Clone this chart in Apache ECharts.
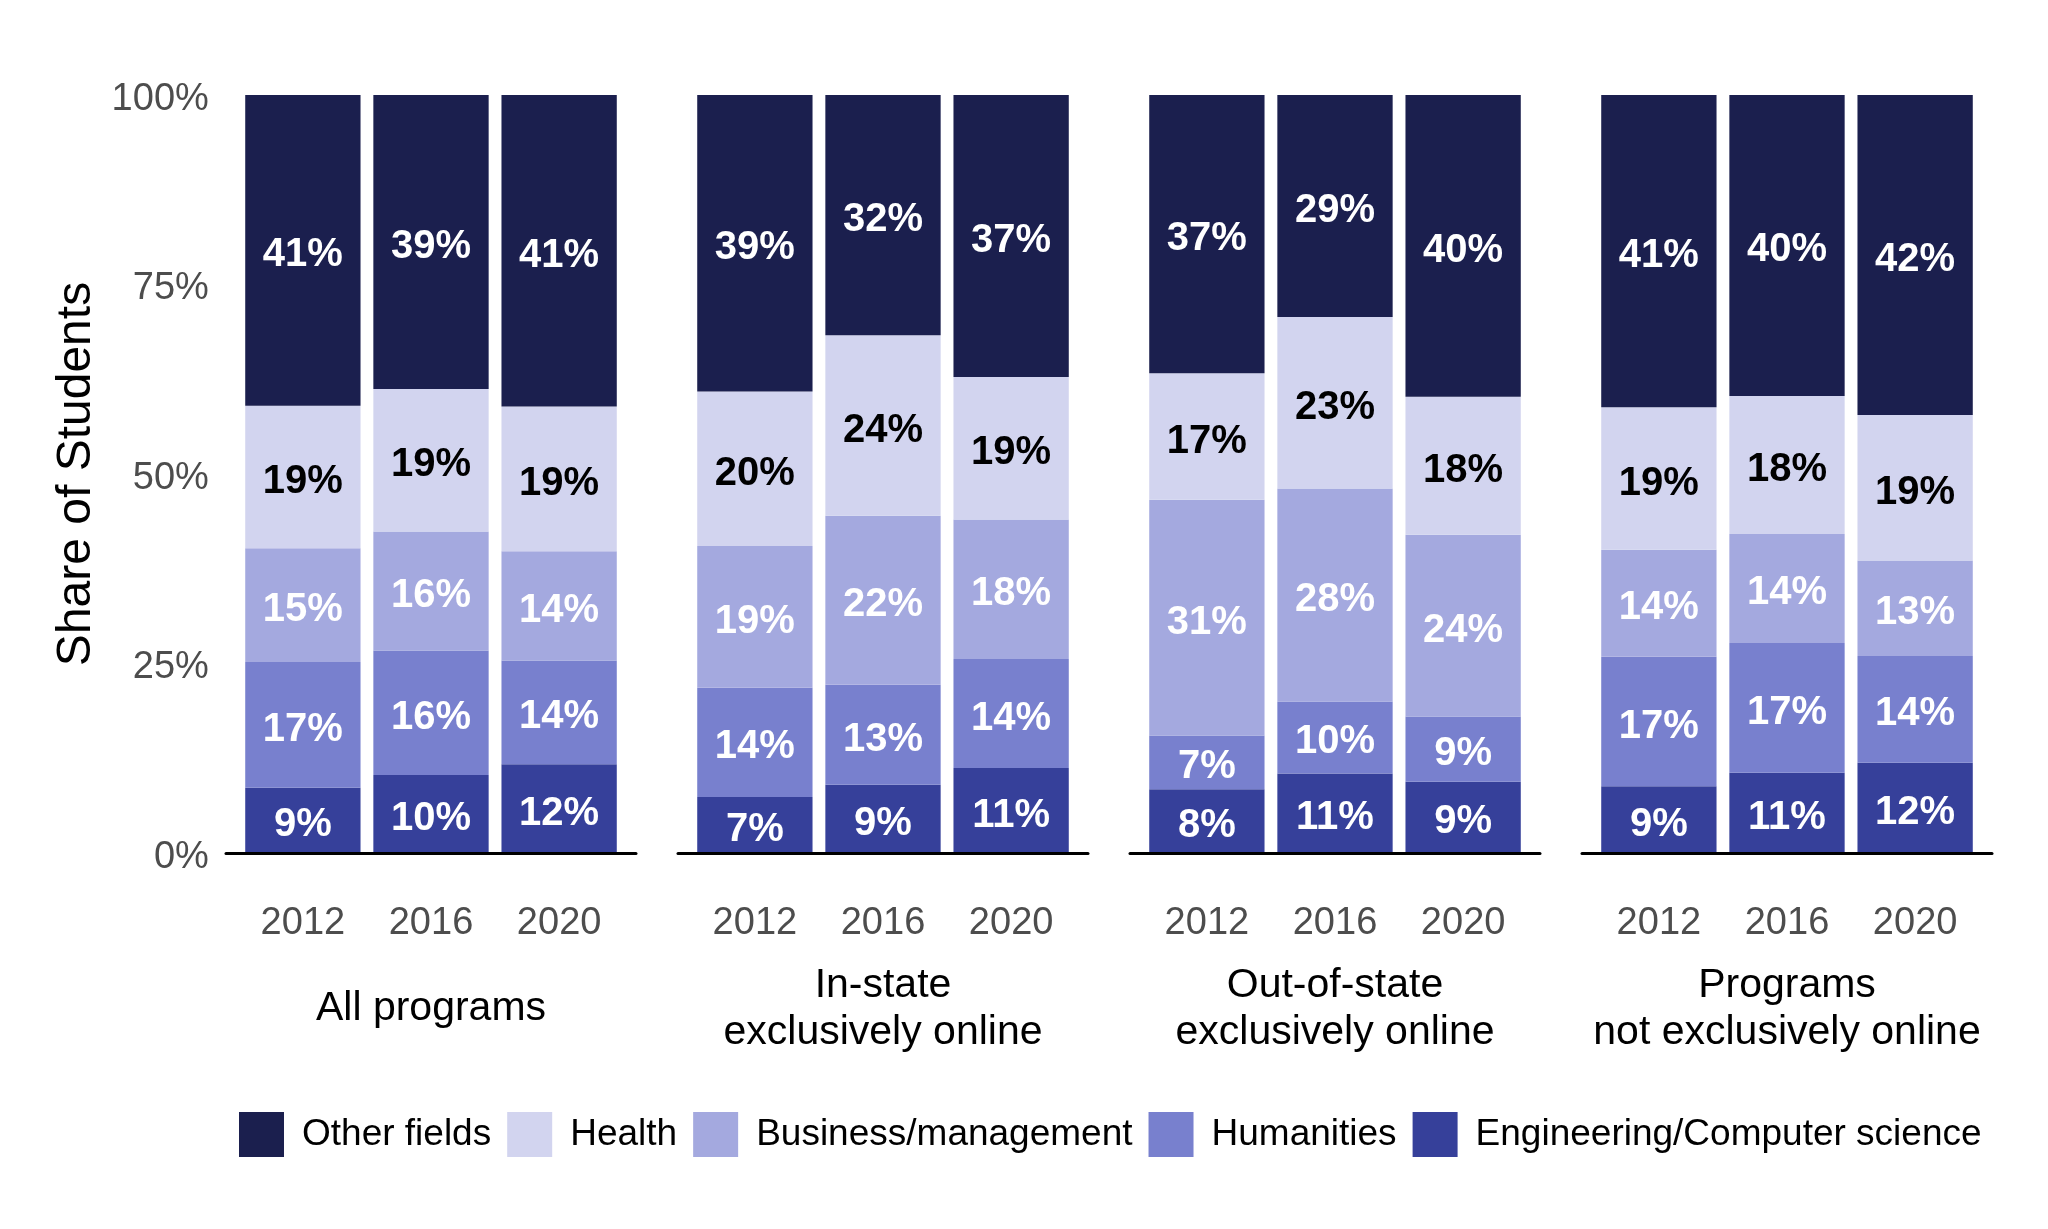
<!DOCTYPE html>
<html>
<head>
<meta charset="utf-8">
<script src="https://cdn.jsdelivr.net/npm/echarts@6/dist/echarts.min.js"></script>
<style>html,body{margin:0;padding:0;background:#fff;}#c{width:2048px;height:1229px;}</style>
</head>
<body>
<div id="c"></div>
<script>
const years = ['2012', '2016', '2020'];
const groups = ['All programs', 'In-state\nexclusively online', 'Out-of-state\nexclusively online', 'Programs\nnot exclusively online'];
const fields = ['Other fields', 'Health', 'Business/management', 'Humanities', 'Engineering/Computer science'];
const yTicks = [0, 25, 50, 75, 100];

// values per panel: [2012, 2016, 2020]
const engineering = [[8.6, 10.3, 11.7], [7.4, 9.0, 11.2], [8.4, 10.5, 9.4], [8.8, 10.6, 11.9]];
const humanities  = [[16.6, 16.4, 13.7], [14.4, 13.2, 14.4], [7.1, 9.5, 8.6], [17.1, 17.1, 14.1]];
const business    = [[15.0, 15.7, 14.4], [18.7, 22.3, 18.4], [31.1, 28.1, 24.0], [14.1, 14.4, 12.6]];
const health      = [[18.8, 18.8, 19.1], [20.4, 23.8, 18.8], [16.7, 22.6, 18.2], [18.8, 18.2, 19.2]];
const other       = [[41.0, 38.8, 41.1], [39.1, 31.7, 37.2], [36.7, 29.3, 39.8], [41.2, 39.7, 42.2]];

const colors = {
  'Other fields': '#1b1f4e',
  'Health': '#d2d4ef',
  'Business/management': '#a4a9df',
  'Humanities': '#7880ce',
  'Engineering/Computer science': '#36409a'
};
const labelColors = {
  'Other fields': '#ffffff',
  'Health': '#000000',
  'Business/management': '#ffffff',
  'Humanities': '#ffffff',
  'Engineering/Computer science': '#ffffff'
};
const stackOrder = [
  ['Engineering/Computer science', engineering],
  ['Humanities', humanities],
  ['Business/management', business],
  ['Health', health],
  ['Other fields', other]
];

const FONT = 'Liberation Sans, Arial, sans-serif';
const outerLeft0 = 226, stepX = 452, outerW = 410, gridTop = 95, gridBottom = 1229 - 853;
const unit = outerW / 3.2;

const grid = [], xAxis = [], yAxis = [], series = [];
groups.forEach((g, i) => {
  const ol = outerLeft0 + i * stepX;
  grid.push({ left: ol, width: outerW, top: gridTop, bottom: gridBottom });
  grid.push({ left: ol + 0.1 * unit, width: 3 * unit, top: gridTop, bottom: gridBottom });
  const oi = 2 * i, ii = 2 * i + 1;
  xAxis.push({
    gridIndex: oi, type: 'value', min: 0, max: 1, z: 10,
    axisLine: { show: true, onZero: false, lineStyle: { color: '#000', width: 3 } },
    axisTick: { show: false }, axisLabel: { show: false }, splitLine: { show: false },
    name: g, nameLocation: 'middle', nameGap: 156,
    nameTextStyle: { fontFamily: FONT, fontSize: 41, color: '#000', lineHeight: 47, verticalAlign: 'middle' }
  });
  yAxis.push({ gridIndex: oi, type: 'value', min: 0, max: 100, show: false });
  xAxis.push({
    gridIndex: ii, type: 'category', data: years,
    axisLine: { show: false }, axisTick: { show: false }, splitLine: { show: false },
    axisLabel: { margin: 52, fontFamily: FONT, fontSize: 38, color: '#4d4d4d' }
  });
  yAxis.push(i === 0 ? {
    gridIndex: ii, type: 'value', min: 0, max: 100, interval: 25,
    axisLine: { show: false }, axisTick: { show: false }, splitLine: { show: false },
    axisLabel: {
      margin: 30, fontFamily: FONT, fontSize: 38, color: '#4d4d4d',
      formatter: v => '{t|' + v + '%}',
      rich: { t: { fontFamily: FONT, fontSize: 38, color: '#4d4d4d', padding: [9, 0, 0, 0] } }
    },
    name: 'Share of Students', nameLocation: 'middle', nameGap: 138, nameRotate: 90,
    nameTextStyle: { fontFamily: FONT, fontSize: 48, color: '#000' }
  } : { gridIndex: ii, type: 'value', min: 0, max: 100, show: false });
  stackOrder.forEach(([name, arr]) => {
    series.push({
      name: name, type: 'bar', stack: 'p' + i,
      xAxisIndex: ii, yAxisIndex: ii,
      barWidth: '90%',
      data: arr[i],
      itemStyle: { color: colors[name] },
      label: {
        show: true, position: 'inside', offset: [0, 5],
        fontFamily: FONT, fontSize: 40, fontWeight: 'bold', color: labelColors[name],
        formatter: p => Math.round(p.value) + '%'
      },
      emphasis: { disabled: true },
      animation: false
    });
  });
});

const chart = echarts.init(document.getElementById('c'));
chart.setOption({
  backgroundColor: '#ffffff',
  animation: false,
  color: fields.map(f => colors[f]),
  grid, xAxis, yAxis, series,
  legend: {
    data: fields,
    left: 234, top: 1107,
    itemWidth: 45, itemHeight: 45, itemGap: 16,
    icon: 'rect',
    selectedMode: false,
    textStyle: { fontFamily: FONT, fontSize: 37, color: '#000', padding: [0, 0, 0, 13] }
  }
});
</script>
</body>
</html>
